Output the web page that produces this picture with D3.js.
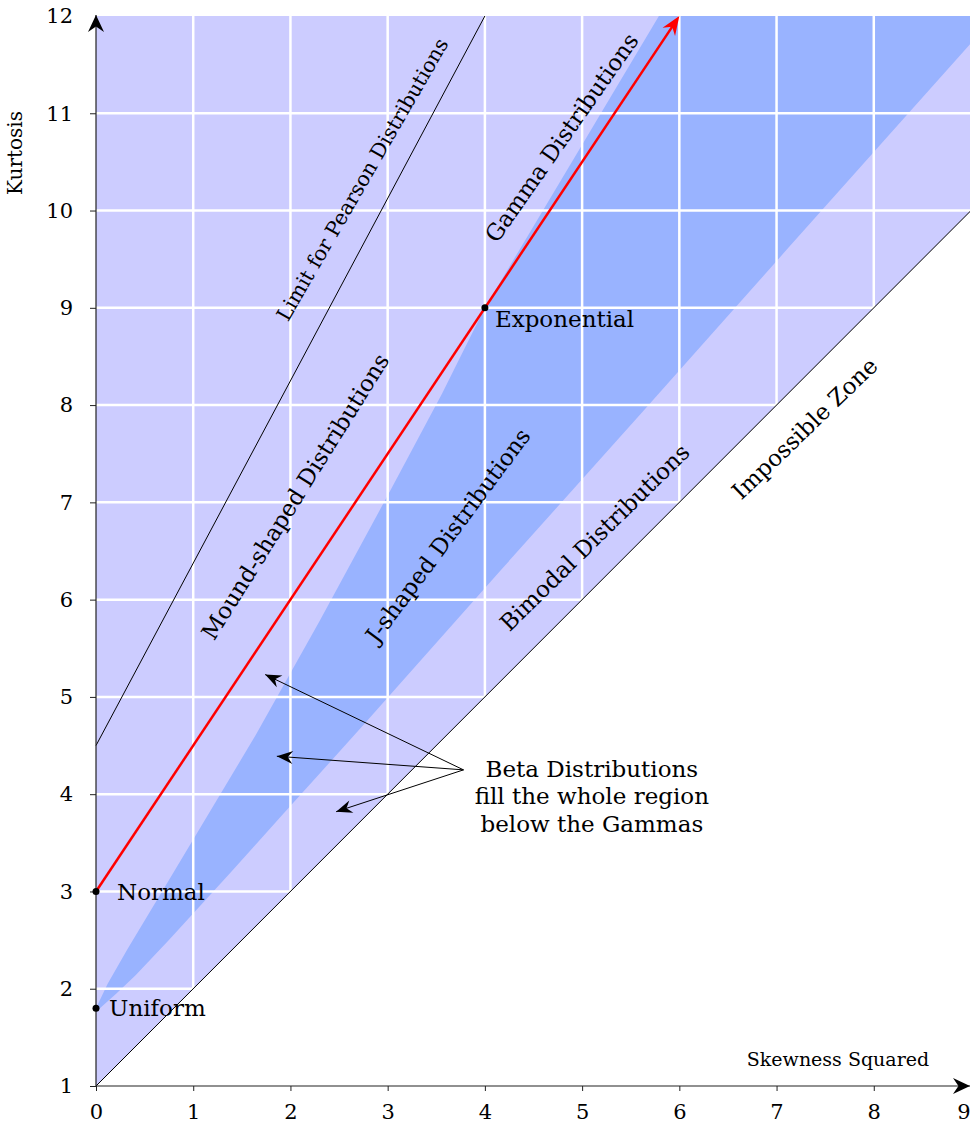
<!DOCTYPE html>
<html>
<head>
<meta charset="utf-8">
<script src="https://cdn.jsdelivr.net/npm/d3@7"></script>
<style>
body { margin: 0; background: #fff; }
text { font-family: "DejaVu Serif", serif; fill: #000; }
</style>
</head>
<body>
<div id="chart"></div>
<script>
// skewness squared vs kurtosis plane (Pearson / Beta / Gamma regions)

var xTicks = [0, 1, 2, 3, 4, 5, 6, 7, 8, 9];
var yTicks = [1, 2, 3, 4, 5, 6, 7, 8, 9, 10, 11, 12];

// everything above kurtosis = skew^2 + 1 is possible
var possibleRegion = [[0, 1], [0, 12], [9, 12], [9, 10]];
var impossibleLine = [[0, 1], [9, 10]];
var pearsonLimit = [[0, 4.5], [4, 12]];
var gammaLine = [[0, 3], [6, 12]];

// J-shaped band edges
var jUpper = [[0, 1.8], [0.12, 2.05], [0.32, 2.4], [0.74, 3.1], [1.1, 3.7], [1.65, 4.62],
  [2.3, 5.78], [3.0, 7.07], [3.56, 8.12], [3.77, 8.54], [4, 9], [5.79, 12]];
var jLower = [[0, 1.8], [0.04, 1.8], [0.21, 1.95], [0.41, 2.14], [0.75, 2.5], [1.38, 3.19],
  [1.92, 3.79], [2.75, 4.71], [4.17, 6.31], [5.62, 7.93], [7.08, 9.57], [9, 11.72]];

var pointNames = ["Normal", "Uniform", "Exponential"];
var pointX = [0, 0, 4];
var pointY = [3, 1.8, 9];

var betaFrom = [3.78, 4.25];
var betaTips = [[1.74, 5.23], [1.86, 4.39], [2.47, 3.82]];
var betaText = ["Beta Distributions", "fill the whole region", "below the Gammas"];

var regionNames = ["Limit for Pearson Distributions", "Gamma Distributions", "Mound-shaped Distributions",
  "J-shaped Distributions", "Bimodal Distributions", "Impossible Zone"];

//------------------------------------------------------------
var w = 970, h = 1124;

var xScale = d3.scaleLinear().domain([0, 9]).range([96, 971]);
var yScale = d3.scaleLinear().domain([1, 12]).range([1086, 16]);

var line = d3.line()
  .x(function(d) { return xScale(d[0]); })
  .y(function(d) { return yScale(d[1]); });

var svg = d3.select("#chart")
  .append("svg")
  .attr("width", w)
  .attr("height", h);

var defs = svg.append("defs");

function addMarker(id, color, len, wid, back) {
  defs.append("marker")
    .attr("id", id)
    .attr("markerUnits", "userSpaceOnUse")
    .attr("viewBox", (-len - 1) + " " + (-wid / 2 - 1) + " " + (len + 2) + " " + (wid + 2))
    .attr("refX", -back)
    .attr("refY", 0)
    .attr("markerWidth", len + 2)
    .attr("markerHeight", wid + 2)
    .attr("orient", "auto")
    .append("path")
    .attr("d", "M0,0 L" + (-len) + "," + (-wid / 2) + " L" + (-len * 0.68) + ",0 L" + (-len) + "," + (wid / 2) + "Z")
    .attr("fill", color);
}
addMarker("headBlack", "#000", 16, 13, 0);
addMarker("headAxis", "#000", 17, 16, 0);
addMarker("headRed", "#f00", 19, 15, 4);

defs.append("clipPath")
  .attr("id", "regionClip")
  .append("path")
  .attr("d", line(possibleRegion) + "Z");

// background regions
svg.append("path")
  .attr("d", line(possibleRegion) + "Z")
  .attr("fill", "#ccccff");

var band = jUpper.concat([[9, 12]]).concat(jLower.slice().reverse());
svg.append("path")
  .attr("d", line(band) + "Z")
  .attr("fill", "#99b3ff");

// grid
var grid = svg.append("g")
  .attr("clip-path", "url(#regionClip)")
  .attr("stroke", "#fff")
  .attr("stroke-width", 2.5);

grid.selectAll(".vgrid")
  .data(xTicks.slice(1, -1))
  .enter()
  .append("line")
  .attr("x1", function(d) { return xScale(d); })
  .attr("x2", function(d) { return xScale(d); })
  .attr("y1", yScale(1))
  .attr("y2", yScale(12));

grid.selectAll(".hgrid")
  .data(yTicks.slice(1, -1))
  .enter()
  .append("line")
  .attr("x1", xScale(0))
  .attr("x2", xScale(9))
  .attr("y1", function(d) { return yScale(d); })
  .attr("y2", function(d) { return yScale(d); });

// thin boundaries
svg.append("path")
  .attr("d", line(impossibleLine))
  .attr("fill", "none")
  .attr("stroke", "#000")
  .attr("stroke-width", 1);

svg.append("path")
  .attr("d", line(pearsonLimit))
  .attr("fill", "none")
  .attr("stroke", "#000")
  .attr("stroke-width", 1);

// axes
var xAxis = d3.axisBottom(xScale).tickValues(xTicks).tickSize(5).tickPadding(13).tickSizeOuter(0);
var yAxis = d3.axisLeft(yScale).tickValues(yTicks).tickSize(6).tickPadding(17).tickSizeOuter(0);

var xAxisGroup = svg.append("g")
  .attr("transform", "translate(0," + yScale(1) + ")")
  .call(xAxis);
var yAxisGroup = svg.append("g")
  .attr("transform", "translate(" + xScale(0) + ",0)")
  .call(yAxis);

[xAxisGroup, yAxisGroup].forEach(function(g) {
  g.select(".domain").remove();
  g.attr("font-family", "DejaVu Serif").attr("font-size", 21);
  g.selectAll(".tick line").attr("stroke", "#222");
});
yAxisGroup.selectAll(".tick").filter(function(d) { return d === 12; }).select("line").remove();
// last x label sits on the page edge; keep it inside
xAxisGroup.selectAll(".tick").filter(function(d) { return d === 9; }).select("text")
  .attr("text-anchor", "end")
  .attr("x", -1);

svg.append("line")
  .attr("x1", xScale(0)).attr("y1", yScale(1))
  .attr("x2", xScale(9) - 1).attr("y2", yScale(1))
  .attr("stroke", "#222").attr("stroke-width", 1.2)
  .attr("marker-end", "url(#headAxis)");

svg.append("line")
  .attr("x1", xScale(0)).attr("y1", yScale(1))
  .attr("x2", xScale(0)).attr("y2", yScale(12) - 1)
  .attr("stroke", "#222").attr("stroke-width", 1.2)
  .attr("marker-end", "url(#headAxis)");

svg.append("text")
  .attr("transform", "translate(22," + 153 + ") rotate(-90)")
  .attr("text-anchor", "middle")
  .attr("font-size", 20)
  .text("Kurtosis");

svg.append("text")
  .attr("x", 838)
  .attr("y", 1066)
  .attr("text-anchor", "middle")
  .attr("font-size", 19)
  .text("Skewness Squared");

// beta arrows
betaTips.forEach(function(t) {
  svg.append("path")
    .attr("d", line([betaFrom, t]))
    .attr("stroke", "#000")
    .attr("stroke-width", 1)
    .attr("fill", "none")
    .attr("marker-end", "url(#headBlack)");
});

svg.selectAll(".beta-text")
  .data(betaText)
  .enter()
  .append("text")
  .attr("x", xScale(5.1))
  .attr("y", function(d, i) { return yScale(4.18) + i * 27.5; })
  .attr("text-anchor", "middle")
  .attr("font-size", 23)
  .text(function(d) { return d; });

// gamma line, shortened a little so the arrow tip stays sharp
var g0 = [xScale(gammaLine[0][0]), yScale(gammaLine[0][1])];
var g1 = [xScale(gammaLine[1][0]), yScale(gammaLine[1][1])];
var len = Math.hypot(g1[0] - g0[0], g1[1] - g0[1]);
var g1s = [g1[0] - (g1[0] - g0[0]) * 4 / len, g1[1] - (g1[1] - g0[1]) * 4 / len];
svg.append("line")
  .attr("x1", g0[0]).attr("y1", g0[1])
  .attr("x2", g1s[0]).attr("y2", g1s[1])
  .attr("stroke", "#f00")
  .attr("stroke-width", 2.5)
  .attr("marker-end", "url(#headRed)");

// region labels along the lines
var regionPos = [
  { x: 2.74, y: 10.32, a: 60, size: 20.5 },
  { x: 4.79, y: 10.75, a: 55, size: 23 },
  { x: 2.05, y: 7.06, a: 58, size: 23 },
  { x: 3.62, y: 6.66, a: 53.5, size: 23 },
  { x: 5.13, y: 6.64, a: 44.5, size: 23 },
  { x: 7.29, y: 7.76, a: 44, size: 23 }
];
regionNames.forEach(function(name, i) {
  var p = regionPos[i];
  svg.append("text")
    .attr("transform", "translate(" + xScale(p.x) + "," + yScale(p.y) + ") rotate(" + (-p.a) + ")")
    .attr("text-anchor", "middle")
    .attr("dominant-baseline", "central")
    .attr("font-size", p.size)
    .text(name);
});

// named distributions
var labelOffset = [[21, 9], [13, 8], [10, 19]];
pointNames.forEach(function(name, i) {
  svg.append("circle")
    .attr("cx", xScale(pointX[i]))
    .attr("cy", yScale(pointY[i]))
    .attr("r", 3.5)
    .attr("fill", "#000");
  svg.append("text")
    .attr("x", xScale(pointX[i]) + labelOffset[i][0])
    .attr("y", yScale(pointY[i]) + labelOffset[i][1])
    .attr("font-size", 23)
    .text(name);
});
</script>
</body>
</html>
